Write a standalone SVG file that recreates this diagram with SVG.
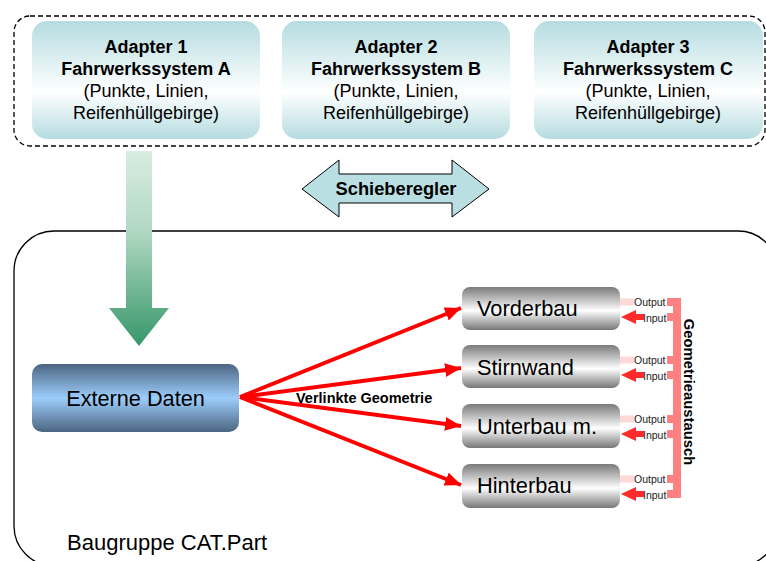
<svg xmlns="http://www.w3.org/2000/svg" width="766" height="561" viewBox="0 0 766 561">
  <style>
    text { font-family: "Liberation Sans", Arial, sans-serif; fill: #000; }
    .adapter { stroke: none; }
    .ad-b { font-size: 18px; font-weight: bold; text-anchor: middle; }
    .ad-r { font-size: 18px; text-anchor: middle; }
    .part { fill: url(#grayGrad); }
    .part-t { font-size: 21.8px; }
    .link { stroke: #ff0000; stroke-width: 4; fill: none; marker-end: url(#redHead); }
    .out-bar { fill: #ffd8d8; }
    .in-arrow { fill: #ff2a2a; }
    .stub { fill: #ff8080; }
    .io-t { font-size: 10.5px; fill: #222; }
  </style>
  <defs>
    <linearGradient id="tealGrad" x1="0" y1="0" x2="0" y2="1">
      <stop offset="0" stop-color="#b5dce0"/>
      <stop offset="0.6" stop-color="#ffffff"/>
      <stop offset="1" stop-color="#b5dce0"/>
    </linearGradient>
    <linearGradient id="greenGrad" x1="0" y1="0" x2="0" y2="1">
      <stop offset="0" stop-color="#d8ece2"/>
      <stop offset="0.4" stop-color="#b3d9c4"/>
      <stop offset="1" stop-color="#36976a"/>
    </linearGradient>
    <linearGradient id="blueGrad" x1="0" y1="0" x2="0" y2="1">
      <stop offset="0" stop-color="#4b6582"/>
      <stop offset="0.5" stop-color="#9dcdfb"/>
      <stop offset="1" stop-color="#4b6582"/>
    </linearGradient>
    <linearGradient id="grayGrad" x1="0" y1="0" x2="0" y2="1">
      <stop offset="0" stop-color="#7a7a7a"/>
      <stop offset="0.55" stop-color="#ffffff"/>
      <stop offset="1" stop-color="#767676"/>
    </linearGradient>
    <marker id="redHead" markerUnits="userSpaceOnUse" markerWidth="18" markerHeight="14" refX="16" refY="7" orient="auto">
      <path d="M0,0 L16,7 L0,14 Z" fill="#ff0000"/>
    </marker>
  </defs>

  <!-- adapter container -->
  <rect x="14" y="16" width="751" height="130" rx="16" fill="none" stroke="#000" stroke-width="1.3" stroke-dasharray="5,3"/>

  <g id="adapter1">
    <rect class="adapter" x="32" y="21" width="228" height="118" rx="15" fill="url(#tealGrad)"/>
    <text class="ad-b" x="146" y="53">Adapter 1</text>
    <text class="ad-b" x="146" y="75">Fahrwerkssystem A</text>
    <text class="ad-r" x="146" y="97">(Punkte, Linien,</text>
    <text class="ad-r" x="146" y="119">Reifenhüllgebirge)</text>
  </g>
  <g id="adapter2">
    <rect class="adapter" x="282" y="21" width="228" height="118" rx="15" fill="url(#tealGrad)"/>
    <text class="ad-b" x="396" y="53">Adapter 2</text>
    <text class="ad-b" x="396" y="75">Fahrwerkssystem B</text>
    <text class="ad-r" x="396" y="97">(Punkte, Linien,</text>
    <text class="ad-r" x="396" y="119">Reifenhüllgebirge)</text>
  </g>
  <g id="adapter3">
    <rect class="adapter" x="534" y="21" width="229" height="118" rx="15" fill="url(#tealGrad)"/>
    <text class="ad-b" x="648" y="53">Adapter 3</text>
    <text class="ad-b" x="648" y="75">Fahrwerkssystem C</text>
    <text class="ad-r" x="648" y="97">(Punkte, Linien,</text>
    <text class="ad-r" x="648" y="119">Reifenhüllgebirge)</text>
  </g>

  <!-- slider double arrow -->
  <g id="schieberegler">
    <polygon points="302,189 339,160 339,174 452,174 452,160 489,189 452,217 452,203 339,203 339,217" fill="#b9dfe2" stroke="#000" stroke-width="1"/>
    <text x="396" y="195" font-size="18.3" font-weight="bold" text-anchor="middle">Schieberegler</text>
  </g>

  <!-- assembly container -->
  <g id="baugruppe">
    <rect x="14" y="231" width="764" height="335" rx="40" fill="none" stroke="#000" stroke-width="1.3"/>
    <text x="67" y="550" font-size="22">Baugruppe CAT.Part</text>
  </g>

  <!-- big data-flow arrow -->
  <g id="flow-arrow">
    <polygon points="126,151 152,151 152,308 169,308 139,346 109,308 126,308" fill="url(#greenGrad)"/>
  </g>

  <g id="externe-daten">
    <rect x="32" y="364" width="207" height="68" rx="10" fill="url(#blueGrad)"/>
    <text x="135.5" y="406" font-size="21.7" text-anchor="middle">Externe Daten</text>
  </g>

  <g id="vorderbau">
    <rect class="part" x="462" y="287" width="158" height="43" rx="8"/>
    <text class="part-t" x="477" y="316">Vorderbau</text>
  </g>
  <g id="stirnwand">
    <rect class="part" x="462" y="345" width="158" height="43" rx="8"/>
    <text class="part-t" x="477" y="375">Stirnwand</text>
  </g>
  <g id="unterbau">
    <rect class="part" x="462" y="404" width="158" height="44" rx="8"/>
    <text class="part-t" x="477" y="434">Unterbau m.</text>
  </g>
  <g id="hinterbau">
    <rect class="part" x="462" y="464" width="158" height="44" rx="8"/>
    <text class="part-t" x="477" y="493">Hinterbau</text>
  </g>

  <!-- linked geometry connectors -->
  <g id="connectors">
    <line class="link" x1="240" y1="397" x2="461" y2="308"/>
    <line class="link" x1="240" y1="397" x2="461" y2="368"/>
    <line class="link" x1="240" y1="397" x2="461" y2="426"/>
    <line class="link" x1="240" y1="397" x2="461" y2="485"/>
    <text x="296" y="403" font-size="14.5" font-weight="bold">Verlinkte Geometrie</text>
  </g>

  <!-- geometry exchange bracket with output/input ports -->
  <g id="geometrieaustausch">
    <rect class="stub" x="673" y="298" width="8" height="200"/>

    <rect class="out-bar" x="620" y="298.5" width="14" height="7"/>
    <text class="io-t" x="634" y="306">Output</text>
    <rect class="stub" x="667" y="298" width="8" height="8"/>
    <polygon class="in-arrow" points="621,317 636,310 636,314 644,314 644,320 636,320 636,324"/>
    <text class="io-t" x="643" y="322">Input</text>
    <rect class="stub" x="667" y="313" width="8" height="8"/>

    <rect class="out-bar" x="620" y="356.5" width="14" height="7"/>
    <text class="io-t" x="634" y="364">Output</text>
    <rect class="stub" x="667" y="356" width="8" height="8"/>
    <polygon class="in-arrow" points="621,375 636,368 636,372 644,372 644,378 636,378 636,382"/>
    <text class="io-t" x="643" y="380">Input</text>
    <rect class="stub" x="667" y="371" width="8" height="8"/>

    <rect class="out-bar" x="620" y="415.5" width="14" height="7"/>
    <text class="io-t" x="634" y="423">Output</text>
    <rect class="stub" x="667" y="415" width="8" height="8"/>
    <polygon class="in-arrow" points="621,434 636,427 636,431 644,431 644,437 636,437 636,441"/>
    <text class="io-t" x="643" y="439">Input</text>
    <rect class="stub" x="667" y="430" width="8" height="8"/>

    <rect class="out-bar" x="620" y="475.5" width="14" height="7"/>
    <text class="io-t" x="634" y="483">Output</text>
    <rect class="stub" x="667" y="475" width="8" height="8"/>
    <polygon class="in-arrow" points="621,494 636,487 636,491 644,491 644,497 636,497 636,501"/>
    <text class="io-t" x="643" y="499">Input</text>
    <rect class="stub" x="667" y="490" width="8" height="8"/>

    <text transform="translate(684,392) rotate(90)" font-size="14.8" font-weight="bold" text-anchor="middle">Geometrieaustausch</text>
  </g>
</svg>
